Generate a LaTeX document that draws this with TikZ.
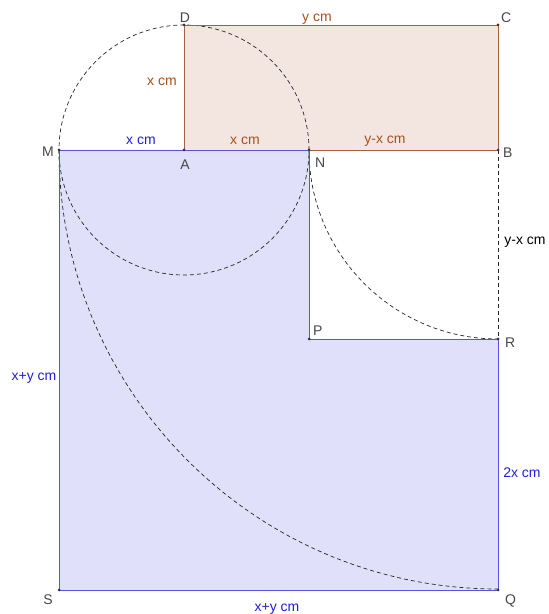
\documentclass[tikz,border=0pt]{standalone}
\usepackage{fontspec}
\setmainfont{Liberation Sans}
\usetikzlibrary{positioning}
\definecolor{rectline}{RGB}{165,95,65}
\definecolor{rectfill}{RGB}{243,230,224}
\definecolor{rectlbl}{RGB}{170,80,25}
\definecolor{polyline}{RGB}{85,85,225}
\definecolor{polyfill}{RGB}{224,224,250}
\definecolor{polylbl}{RGB}{30,30,225}
\definecolor{ptgray}{RGB}{70,70,70}

\begin{document}
\begin{tikzpicture}[x=1pt, y=1pt, font=\fontsize{14}{16}\selectfont,
  arcline/.style={dash pattern=on 4pt off 3pt, line width=0.7pt, black!85},
  ptname/.style={text=ptgray, inner sep=0pt},
  lenlbl/.style={inner sep=0pt},
  dot/.style={circle, fill=black!80, inner sep=0pt, minimum size=3pt}]
  \useasboundingbox (0,0) rectangle (549,614);
  % x = 125, y = 314
  \coordinate (M) at (59,464);
  \coordinate (A) at (184,464);
  \coordinate (N) at (309,464);
  \coordinate (B) at (498,464);
  \coordinate (D) at (184,589);
  \coordinate (C) at (498,589);
  \coordinate (P) at (309,275);
  \coordinate (R) at (498,275);
  \coordinate (Q) at (498,24);
  \coordinate (S) at (59,24);
  % fills
  \fill[polyfill] (M) -- (N) -- (P) -- (R) -- (Q) -- (S) -- cycle;
  \fill[rectfill] (A) rectangle (C);
  % construction arcs
  \draw[arcline] (A) circle[radius=125];
  \draw[arcline] (N) arc[start angle=180, end angle=270, radius=189];
  \draw[arcline] (M) arc[start angle=180, end angle=270, radius=439];
  \draw[arcline] (B) -- (R);
  % outlines
  \draw[rectline, line width=0.9pt] (A) rectangle (C);
  \draw[polyline, line width=0.9pt] (M) -- (N) -- (P) -- (R) -- (Q) -- (S) -- cycle;
  % points
  \foreach \p in {M,A,N,B,C,D,P,R,Q,S}
    \node[dot] at (\p) {};
  \node[ptname, above=2pt of D, xshift=1pt] (lD) {D};
  \node[ptname, above right=2pt and 3pt of C] (lC) {C};
  \node[ptname, left=5pt of M, yshift=-2pt] (lM) {M};
  \node[ptname, below=10pt of A, xshift=1pt] (lA) {A};
  \node[ptname, below right=8pt and 6pt of N] (lN) {N};
  \node[ptname, right=5pt of B, yshift=-3pt] (lB) {B};
  \node[ptname, above right=3pt and 4pt of P] (lP) {P};
  \node[ptname, right=7pt of R, yshift=-4pt] (lR) {R};
  \node[ptname, below left=5pt and 6pt of S] (lS) {S};
  \node[ptname, below right=5pt and 7pt of Q] (lQ) {Q};
  % lengths
  \node[lenlbl, text=rectlbl] (lDC) at (317,595) {y cm};
  \node[lenlbl, text=rectlbl] (lAD) at (162,532) {x cm};
  \node[lenlbl, text=rectlbl] (lAN) at (245,473) {x cm};
  \node[lenlbl, text=rectlbl] (lNB) at (385,473) {y-x cm};
  \node[lenlbl, text=polylbl] (lMA) at (141,473) {x cm};
  \node[lenlbl] (lBR) at (525,372) {y-x cm};
  \node[lenlbl, text=polylbl] (lMS) at (34,236) {x+y cm};
  \node[lenlbl, text=polylbl] (lRQ) at (522,141) {2x cm};
  \node[lenlbl, text=polylbl] (lSQ) at (277,5) {x+y cm};
\end{tikzpicture}
\end{document}
